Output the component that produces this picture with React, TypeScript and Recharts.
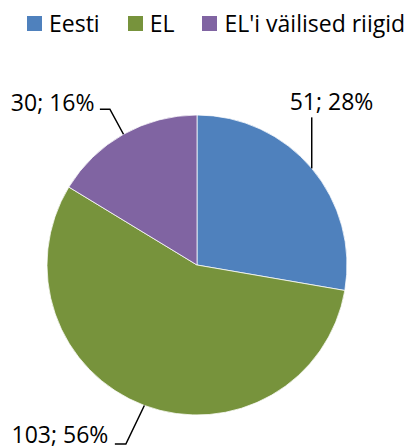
import { PieChart, Pie, Cell, Legend } from "recharts"

const categories = ["Eesti", "EL", "EL'i väilised riigid"]
const counts = [51, 103, 30]
const colors = ["#4F81BD", "#77933C", "#8064A2"]

const FONT = "'Open Sans', 'Liberation Sans', sans-serif"
const RADIAN = Math.PI / 180

// leader line shape per slice, relative to the slice's outer mid point
const LEADERS = [
    { elbow: [0, -51], end: [0, -51], text: [-22, -58.4], anchor: "start" },
    { elbow: [-18.5, 38.5], end: [-29.5, 38.5], text: [-36, 37.5], anchor: "end" },
    { elbow: [-13.6, -25], end: [-23.6, -25], text: [-29, -23.5], anchor: "end" },
]

const data = categories.map((name, i) => ({ name, value: counts[i] }))

// eslint-disable-next-line @typescript-eslint/no-explicit-any
function renderLabel(props: any) {
    const { cx, cy, midAngle, outerRadius, index, value, percent } = props
    const px = cx + outerRadius * Math.cos(-midAngle * RADIAN)
    const py = cy + outerRadius * Math.sin(-midAngle * RADIAN)
    const l = LEADERS[index]
    const pts = `${px},${py} ${px + l.elbow[0]},${py + l.elbow[1]} ${px + l.end[0]},${py + l.end[1]}`
    return (
        <g key={`lbl-${index}`}>
            <polyline points={pts} fill="none" stroke="#000" strokeWidth={1.5} />
            <text
                x={px + l.text[0]}
                y={py + l.text[1]}
                textAnchor={l.anchor}
                fill="#000"
                fontSize={23}
                fontFamily={FONT}
            >
                {`${value}; ${Math.round(percent * 100)}%`}
            </text>
        </g>
    )
}

// eslint-disable-next-line @typescript-eslint/no-explicit-any
function renderLegend(props: any) {
    // keep the data order, the legend sorts by name otherwise
    // eslint-disable-next-line @typescript-eslint/no-explicit-any
    const items = [...props.payload].sort((a: any, b: any) => categories.indexOf(a.value) - categories.indexOf(b.value))
    return (
        <div style={{ display: "flex", fontFamily: FONT, fontSize: 23, lineHeight: "31px", color: "#000" }}>
            {/* eslint-disable-next-line @typescript-eslint/no-explicit-any */}
            {items.map((entry: any, i: number) => (
                <div key={`leg-${i}`} style={{ display: "flex", alignItems: "flex-start", marginRight: 28 }}>
                    <span style={{ width: 15, height: 15, marginTop: 8, marginRight: 7, background: entry.color, display: "inline-block" }} />
                    <span style={{ whiteSpace: "nowrap" }}>{entry.value}</span>
                </div>
            ))}
        </div>
    )
}

export default function App() {
    return (
        <div style={{ position: "absolute", left: 0, top: 0, width: 408, height: 448, background: "#fff" }}>
            <PieChart width={408} height={448} margin={{ top: 0, right: 0, bottom: 0, left: 0 }}>
                <Legend
                    layout="horizontal"
                    verticalAlign="middle"
                    align="center"
                    content={renderLegend}
                    wrapperStyle={{ top: 8, left: 27, width: 381 }}
                />
                <Pie
                    data={data}
                    dataKey="value"
                    nameKey="name"
                    cx={197}
                    cy={265}
                    outerRadius={150}
                    startAngle={90}
                    endAngle={-270}
                    stroke="#ffffff"
                    strokeWidth={0.75}
                    label={renderLabel}
                    labelLine={false}
                    isAnimationActive={false}
                >
                    {data.map((_, i) => (
                        <Cell key={`cell-${i}`} fill={colors[i]} />
                    ))}
                </Pie>
            </PieChart>
        </div>
    )
}
